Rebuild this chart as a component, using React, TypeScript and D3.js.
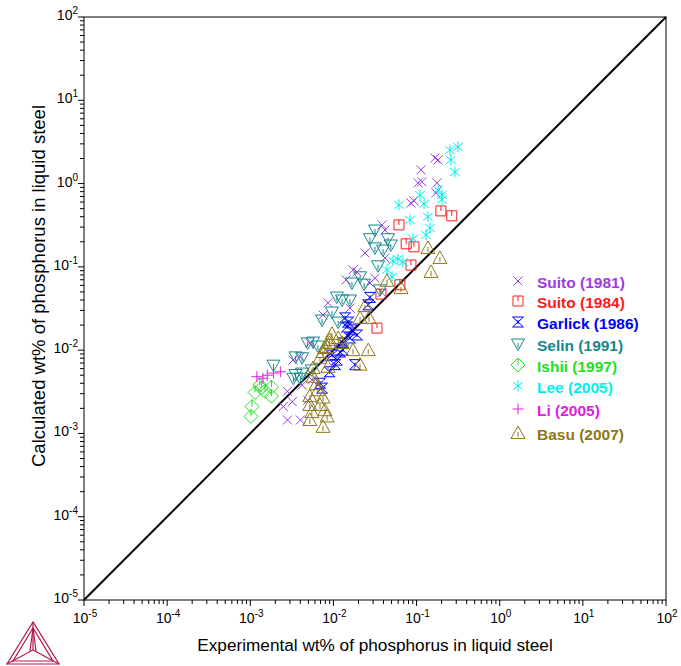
import React from "react";
import * as d3 from "d3";

type P = [number, number];

const suito1981: P[] = [
  [0.166, 2.03], [0.181, 1.92], [0.113, 1.46], [0.104, 1.02], [0.116, 1.05], [0.176, 1.02],
  [0.171, 0.774], [0.093, 0.62], [0.0856, 0.585], [0.0384, 0.319], [0.0417, 0.277], [0.024, 0.147],
  [0.0417, 0.128], [0.0172, 0.092], [0.0192, 0.087], [0.0142, 0.0697], [0.0316, 0.073], [0.0275, 0.064],
  [0.0384, 0.049], [0.0086, 0.037], [0.0158, 0.032], [0.0075, 0.0264], [0.0052, 0.0122], [0.004, 0.0083],
  [0.00326, 0.0076], [0.0055, 0.0044], [0.0042, 0.0038], [0.0028, 0.0032], [0.0032, 0.0024], [0.0025, 0.0021],
  [0.0049, 0.0025], [0.0028, 0.00145], [0.004, 0.00145],
];
const suito1984: P[] = [
  [0.196, 0.47], [0.265, 0.41], [0.0614, 0.319], [0.075, 0.189], [0.093, 0.174], [0.0856, 0.105],
  [0.063, 0.061], [0.0373, 0.047], [0.0334, 0.0184],
];
const garlick1986: P[] = [
  [0.0275, 0.043], [0.0262, 0.035], [0.0138, 0.0244], [0.015, 0.0217], [0.0146, 0.019], [0.0167, 0.0175],
  [0.0192, 0.0152], [0.0158, 0.014], [0.013, 0.0122], [0.013, 0.01], [0.012, 0.0095], [0.0096, 0.0087],
  [0.011, 0.0076], [0.0105, 0.0067], [0.0182, 0.0067], [0.009, 0.0055], [0.0069, 0.004], [0.0073, 0.0035],
];
const selin1991: P[] = [
  [0.0316, 0.277], [0.0275, 0.218], [0.0453, 0.218], [0.049, 0.183], [0.0316, 0.169], [0.0395, 0.159],
  [0.0344, 0.103], [0.0209, 0.076], [0.0234, 0.062], [0.0167, 0.064], [0.0363, 0.053], [0.011, 0.0434],
  [0.0127, 0.04], [0.0158, 0.04], [0.0096, 0.0287], [0.0073, 0.023], [0.0114, 0.0217], [0.0057, 0.0125],
  [0.0049, 0.0122], [0.0065, 0.0112], [0.0035, 0.0083], [0.0042, 0.0081], [0.0019, 0.0066], [0.0035, 0.0051],
  [0.0042, 0.0053], [0.0033, 0.0046], [0.004, 0.0046], [0.0055, 0.0058],
];
const ishii1997: P[] = [
  [0.00114, 0.0031], [0.00136, 0.0035], [0.0015, 0.0032], [0.0018, 0.0036], [0.0018, 0.0028],
  [0.00105, 0.0021], [0.00102, 0.0016], [0.0013, 0.0038],
];
const lee2005: P[] = [
  [0.314, 2.76], [0.252, 2.53], [0.259, 1.92], [0.289, 1.38], [0.181, 0.84], [0.202, 0.73], [0.202, 0.64],
  [0.11, 0.73], [0.123, 0.57], [0.0614, 0.555], [0.137, 0.4], [0.0833, 0.366], [0.145, 0.293], [0.13, 0.242],
  [0.0906, 0.218], [0.0597, 0.124], [0.0686, 0.114], [0.044, 0.092], [0.0507, 0.076], [0.052, 0.118],
];
const li2005: P[] = [
  [0.0012, 0.0048], [0.00142, 0.0046], [0.0016, 0.005], [0.0019, 0.0053], [0.0023, 0.0055],
];
const basu2007: P[] = [
  [0.137, 0.169], [0.191, 0.128], [0.149, 0.087], [0.044, 0.068], [0.065, 0.0556], [0.024, 0.0338],
  [0.0209, 0.0244], [0.0268, 0.0244], [0.0096, 0.0157], [0.009, 0.0133], [0.0084, 0.0109], [0.0114, 0.014],
  [0.0127, 0.0122], [0.0172, 0.01], [0.0262, 0.01], [0.0209, 0.0067], [0.0075, 0.0095], [0.0069, 0.0081],
  [0.0057, 0.0061], [0.0086, 0.0063], [0.0057, 0.0048], [0.0079, 0.0106], [0.009, 0.0122], [0.0052, 0.0028],
  [0.0075, 0.0027], [0.0069, 0.0022], [0.0052, 0.0022], [0.0079, 0.0019], [0.0055, 0.0018], [0.0084, 0.0016],
  [0.0052, 0.00145], [0.0075, 0.0012], [0.0065, 0.0033], [0.0062, 0.0039],
];

const seriesNames = [
  "Suito (1981)", "Suito (1984)", "Garlick (1986)", "Selin (1991)",
  "Ishii (1997)", "Lee (2005)", "Li (2005)", "Basu (2007)",
];
const seriesData = [suito1981, suito1984, garlick1986, selin1991, ishii1997, lee2005, li2005, basu2007];
const seriesColors = ["#9b3be8", "#ff1a1a", "#0000ff", "#138a8a", "#22e022", "#00f0f0", "#e020e0", "#8c7814"];
const seriesShapes = ["x", "squareT", "hourglass", "triDown", "diamond", "star", "plus", "triUp"];

const exponents = [-5, -4, -3, -2, -1, 0, 1, 2];

const W = 681, H = 666;
const L = 84, R = 666, T = 17, B = 600;

function markerPath(shape: string): string {
  switch (shape) {
    case "x": return "M-4.5,-4.5L4.5,4.5M-4.5,4.5L4.5,-4.5";
    case "squareT": return "M-5,-5H5V5H-5Z M0,-5V0";
    case "hourglass": return "M-5.5,-5H5.5L-5.5,5H5.5Z M0,-2V2";
    case "triDown": return "M-6.5,-5H6.5L0,6.5Z M0,-1V4";
    case "diamond": return "M0,-7L7,0L0,7L-7,0Z M0,-7V0";
    case "star": return "M0,-5.5V5.5 M-4.8,-3.8L4.8,3.8 M-4.8,3.8L4.8,-3.8";
    case "plus": return "M-5.5,0H5.5M0,-5.5V5.5";
    case "triUp": return "M0,-7L7,5.5H-7Z M0,-1V4";
  }
  return "";
}

export default function App() {
  const x = d3.scaleLog().domain([1e-5, 1e2]).range([L, R]);
  const y = d3.scaleLog().domain([1e-5, 1e2]).range([B, T]);

  const minor: number[] = [];
  exponents.slice(0, -1).forEach((e) => {
    for (let k = 2; k <= 9; k++) minor.push(k * Math.pow(10, e));
  });
  const font = "'Liberation Sans', Arial, sans-serif";

  return (
    <svg width={W} height={H} style={{ position: "absolute", left: 0, top: 0, background: "#fff" }} fontFamily={font}>
      <rect x={0} y={0} width={W} height={H} fill="#fff" />
      {/* frame */}
      <rect x={L} y={T} width={R - L} height={B - T} fill="none" stroke="#000" strokeWidth={1} />
      {/* diagonal */}
      <line x1={x(1e-5)} y1={y(1e-5)} x2={x(1e2)} y2={y(1e2)} stroke="#000" strokeWidth={2} />
      {/* ticks */}
      {exponents.map((e) => (
        <g key={"mx" + e}>
          <line x1={x(Math.pow(10, e))} x2={x(Math.pow(10, e))} y1={B} y2={B + 6} stroke="#000" />
          <line y1={y(Math.pow(10, e))} y2={y(Math.pow(10, e))} x1={L} x2={L - 6} stroke="#000" />
          <text x={x(Math.pow(10, e)) + 1} y={B + 23} textAnchor="middle" fontSize={14} fill="#000">
            10<tspan dy={-6} fontSize={10}>{e}</tspan>
          </text>
          <text x={L - 6} y={y(Math.pow(10, e)) + 3} textAnchor="end" fontSize={14} fill="#000">
            10<tspan dy={-6} fontSize={10}>{e}</tspan>
          </text>
        </g>
      ))}
      {minor.map((v, i) => (
        <g key={"mn" + i}>
          <line x1={x(v)} x2={x(v)} y1={B} y2={B + 4} stroke="#000" />
          <line y1={y(v)} y2={y(v)} x1={L} x2={L - 4} stroke="#000" />
        </g>
      ))}
      {/* data */}
      {seriesData.map((data, si) => (
        <g key={"s" + si} stroke={seriesColors[si]} fill="none" strokeWidth={1}>
          {data.map((d, i) => (
            <path key={i} d={markerPath(seriesShapes[si])} transform={`translate(${x(d[0])},${y(d[1])})`} />
          ))}
        </g>
      ))}
      {/* legend */}
      {seriesNames.map((n, i) => {
        const ly = [282, 302, 323, 345, 366, 387, 410, 434][i];
        return (
          <g key={"lg" + i}>
            <path d={markerPath(seriesShapes[i])} transform={`translate(518,${ly - 1})`} stroke={seriesColors[i]} fill="none" />
            <text x={537} y={ly + 5.5} fontSize={15.5} fontWeight="bold" fill={seriesColors[i]}>{n}</text>
          </g>
        );
      })}
      {/* axis titles */}
      <text x={375} y={651} textAnchor="middle" fontSize={17.2} fill="#000">
        Experimental wt% of phosphorus in liquid steel
      </text>
      <text transform="translate(45,286) rotate(-90)" textAnchor="middle" fontSize={18.5} fill="#000">
        Calculated wt% of phosphorus in liquid steel
      </text>
      {/* logo */}
      <g stroke="#b5174b" fill="none" strokeWidth={1.2}>
        <path d="M33,622L7,664H59Z" />
        <path d="M33,628L13,661H53Z" />
        <path d="M33,622V650L7,664M33,650L59,664" />
        <path d="M33,628L30,651M33,628L36,651" />
      </g>
    </svg>
  );
}
